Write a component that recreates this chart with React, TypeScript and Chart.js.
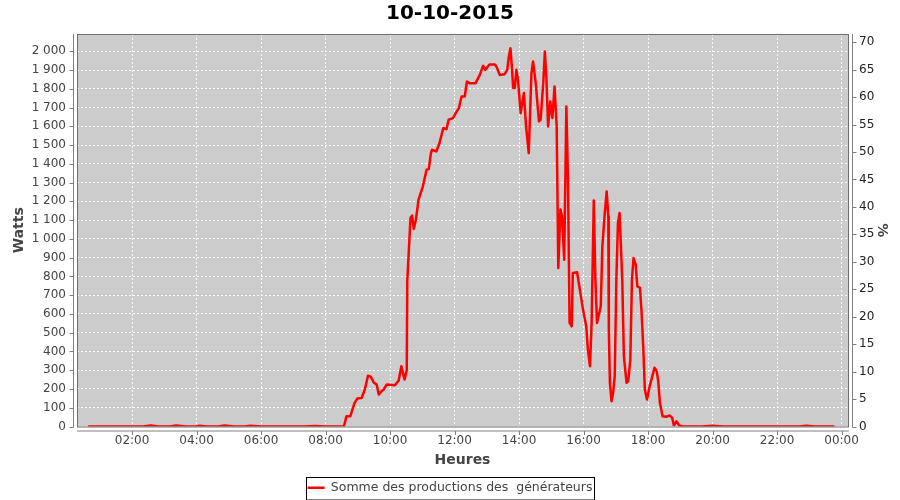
import React, { useEffect, useRef } from "react";
import { Chart, registerables } from "chart.js";

Chart.register(...registerables);

const TITLE = "10-10-2015";
const SERIES_LABEL = "Somme des productions des  générateurs";
const X_TITLE = "Heures";
const Y_TITLE = "Watts";
const Y2_TITLE = "%";

// Heure de chaque mesure
const times = [
  "00:40", "01:00", "01:20", "01:40", "02:00", "02:20", "02:35", "02:50", "03:10", "03:22",
  "03:40", "04:00", "04:05", "04:20", "04:40", "04:52", "05:10", "05:30", "05:40", "06:00",
  "06:20", "06:40", "07:00", "07:20", "07:40", "08:00", "08:20", "08:34",
  "08:39", "08:46", "08:54", "08:59", "09:07", "09:13", "09:19", "09:24", "09:30", "09:35",
  "09:39", "09:44", "09:48", "09:54", "10:09", "10:16", "10:21", "10:24", "10:27", "10:31",
  "10:32", "10:35", "10:38", "10:41", "10:44", "10:48", "10:53", "11:01", "11:08", "11:12",
  "11:16", "11:18", "11:26", "11:32", "11:39", "11:45", "11:49", "11:57", "12:04", "12:08",
  "12:13", "12:19", "12:23", "12:28", "12:39", "12:47", "12:53", "12:57", "13:05", "13:15",
  "13:18", "13:24", "13:33", "13:38", "13:41", "13:44", "13:47", "13:49", "13:52", "13:55",
  "13:58", "14:03", "14:09", "14:13", "14:18", "14:23", "14:26", "14:31", "14:37", "14:40",
  "14:45", "14:48", "14:51", "14:54", "14:58", "15:02", "15:06", "15:10", "15:13", "15:17",
  "15:20", "15:24", "15:28", "15:31", "15:34", "15:38", "15:40", "15:48", "15:53", "15:59",
  "16:05", "16:08", "16:12", "16:15", "16:19", "16:22", "16:25", "16:32", "16:35", "16:39",
  "16:43", "16:46", "16:47", "16:49", "16:52", "16:55", "16:58", "17:01", "17:04", "17:07",
  "17:12", "17:15", "17:20", "17:23", "17:27", "17:30", "17:33", "17:37", "17:40", "17:45",
  "17:48", "17:51", "17:54", "17:58", "18:03", "18:08", "18:12", "18:16", "18:19", "18:22",
  "18:27", "18:34", "18:40", "18:45", "18:48", "18:53", "18:58", "19:05", "19:20", "19:40",
  "20:00", "20:20", "20:40", "21:00", "21:20", "21:40", "22:00", "22:20", "22:40", "22:55",
  "23:10", "23:30", "23:45",
];

// Puissance mesurée (W)
const watts = [
  0, 0, 0, 0, 0, 0, 5, 0, 0, 5,
  0, 0, 4, 0, 0, 5, 0, 0, 4, 0,
  0, 0, 0, 0, 3, 0, 0, 0,
  55, 55, 126, 149, 152, 197, 271, 266, 233, 224,
  170, 188, 197, 224, 220, 245, 321, 286, 250, 300,
  774, 943, 1111, 1124, 1053, 1102, 1209, 1280, 1369, 1372,
  1457, 1475, 1466, 1511, 1591, 1585, 1635, 1644, 1679, 1697,
  1759, 1759, 1839, 1830, 1830, 1874, 1922, 1901, 1929, 1929,
  1918, 1874, 1878, 1901, 1972, 2016, 1900, 1804, 1804, 1901,
  1848, 1670, 1777, 1599, 1457, 1883, 1945, 1830, 1626, 1634,
  1830, 1999, 1848, 1599, 1732, 1644, 1812, 1599, 845, 1156,
  1120, 889, 1706, 1315, 552, 534, 818, 822, 730, 623,
  534, 410, 321, 552, 1205, 783, 552, 641, 960, 1120,
  1253, 1120, 516, 233, 135, 179, 268, 783, 1085, 1138,
  783, 374, 233, 241, 357, 783, 898, 863, 747, 739,
  605, 428, 197, 144, 215, 268, 313, 295, 241, 126,
  55, 52, 59, 46, 5, 28, 5, 0, 0, 0,
  4, 0, 0, 0, 0, 0, 0, 0, 0, 4,
  0, 0, 0,
];

// Graduations
const hourTicks = [2, 4, 6, 8, 10, 12, 14, 16, 18, 20, 22, 24];
const wattTicks = [0, 100, 200, 300, 400, 500, 600, 700, 800, 900, 1000, 1100, 1200, 1300, 1400, 1500, 1600, 1700, 1800, 1900, 2000];
const pctTicks = [0, 5, 10, 15, 20, 25, 30, 35, 40, 45, 50, 55, 60, 65, 70];

const X_MIN = 17.5; // minutes
const X_MAX = 1452;
const Y_MAX = 2092;
const Y2_MAX = 71.5;

const FONT = "'DejaVu Sans', Verdana, sans-serif";

const toMinutes = (t: string) => {
  const [h, m] = t.split(":").map(Number);
  return h * 60 + m;
};

const fmtWatts = (v: number) =>
  v >= 1000 ? `${Math.floor(v / 1000)} ${String(v % 1000).padStart(3, "0")}` : String(v);

const fmtHour = (m: number) => {
  const h = Math.round(m / 60) % 24;
  return `${String(h).padStart(2, "0")}:00`;
};

const framePlugin = {
  id: "plotFrame",
  beforeDraw(chart: any) {
    const { ctx, chartArea: a } = chart;
    ctx.save();
    ctx.fillStyle = "#cccccc";
    ctx.fillRect(a.left, a.top, a.right - a.left, a.bottom - a.top);
    ctx.restore();
  },
  afterDraw(chart: any) {
    const { ctx, chartArea: a, scales } = chart;
    ctx.save();
    ctx.lineWidth = 1;
    ctx.strokeStyle = "#6f6f6f";
    ctx.strokeRect(a.left + 0.5, a.top + 0.5, a.right - a.left, a.bottom - a.top);

    ctx.strokeStyle = "#808080";
    ctx.beginPath();
    const lx = a.left - 3.5;
    ctx.moveTo(lx, a.top);
    ctx.lineTo(lx, a.bottom + 1);
    scales.y.ticks.forEach((t: any) => {
      const py = Math.round(scales.y.getPixelForValue(t.value)) + 0.5;
      ctx.moveTo(lx - 4, py);
      ctx.lineTo(lx, py);
    });
    const rx = a.right + 4.5;
    ctx.moveTo(rx, a.top);
    ctx.lineTo(rx, a.bottom + 1);
    scales.y2.ticks.forEach((t: any) => {
      const py = Math.round(scales.y2.getPixelForValue(t.value)) + 0.5;
      ctx.moveTo(rx, py);
      ctx.lineTo(rx + 4, py);
    });
    const by = a.bottom + 4.5;
    ctx.moveTo(a.left, by);
    ctx.lineTo(a.right + 1, by);
    scales.x.ticks.forEach((t: any) => {
      const px = Math.round(scales.x.getPixelForValue(t.value)) + 0.5;
      ctx.moveTo(px, by);
      ctx.lineTo(px, by + 4);
    });
    ctx.stroke();

    // Legend frame
    const lg = chart.legend;
    if (lg && lg.legendHitBoxes && lg.legendHitBoxes.length) {
      const hb = lg.legendHitBoxes[0];
      ctx.strokeStyle = "#000000";
      ctx.lineWidth = 1;
      ctx.strokeRect(Math.round(hb.left) - 1.5, Math.round(hb.top) - 4.5, Math.round(hb.width) + 3, hb.height + 10);
    }
    ctx.restore();
  },
};

export default function App() {
  const canvasRef = useRef<HTMLCanvasElement | null>(null);

  useEffect(() => {
    const canvas = canvasRef.current;
    if (!canvas) return;
    const data = times.map((t, i) => ({ x: toMinutes(t), y: watts[i] }));
    const chart = new Chart(canvas, {
      type: "line",
      data: {
        datasets: [
          {
            label: SERIES_LABEL,
            data,
            borderColor: "#ff0000",
            backgroundColor: "#ff0000",
            borderWidth: 2.5,
            borderJoinStyle: "round",
            borderCapStyle: "round",
            pointRadius: 0,
            pointStyle: "line",
            tension: 0,
            fill: false,
            yAxisID: "y",
          },
        ],
      },
      options: {
        animation: false,
        responsive: false,
        events: [],
        layout: { padding: { left: 0, right: 0, top: 0, bottom: -4 } },
        plugins: {
          title: {
            display: true,
            text: TITLE,
            color: "#000000",
            font: { family: FONT, size: 20, weight: "bold" },
            padding: { top: 2, bottom: 8 },
          },
          legend: {
            display: true,
            position: "bottom",
            labels: {
              color: "#444444",
              font: { family: FONT, size: 12.5 },
              usePointStyle: true,
              pointStyle: "line",
              pointStyleWidth: 17,
              padding: 10,
            },
          },
          tooltip: { enabled: false },
        },
        scales: {
          x: {
            type: "linear",
            position: "bottom",
            min: X_MIN,
            max: X_MAX,
            afterBuildTicks: (s: any) => {
              s.ticks = hourTicks.map((h) => ({ value: h * 60 }));
            },
            afterFit: (s: any) => {
              s.height = 45;
            },
            ticks: {
              color: "#444444",
              font: { family: FONT, size: 12 },
              padding: 7,
              maxRotation: 0,
              autoSkip: false,
              callback: (v: any) => fmtHour(Number(v)),
            },
            grid: { color: "rgba(255,255,255,0.9)", lineWidth: 1, drawTicks: false },
            border: { display: false, dash: [2, 2] },
            title: {
              display: true,
              text: X_TITLE,
              color: "#444444",
              font: { family: FONT, size: 14, weight: "bold" },
              padding: { top: 0, bottom: 3 },
            },
          },
          y: {
            type: "linear",
            position: "left",
            min: 0,
            max: Y_MAX,
            afterBuildTicks: (s: any) => {
              s.ticks = wattTicks.map((v) => ({ value: v }));
            },
            afterFit: (s: any) => {
              s.width = 77;
            },
            ticks: {
              color: "#444444",
              font: { family: FONT, size: 12 },
              padding: 11,
              autoSkip: false,
              callback: (v: any) => fmtWatts(Number(v)),
            },
            grid: { color: "rgba(255,255,255,0.9)", lineWidth: 1, drawTicks: false },
            border: { display: false, dash: [2, 2] },
            title: {
              display: true,
              text: Y_TITLE,
              color: "#444444",
              font: { family: FONT, size: 14, weight: "bold" },
              padding: { top: 11, bottom: 0 },
            },
          },
          y2: {
            type: "linear",
            position: "right",
            min: 0,
            max: Y2_MAX,
            afterBuildTicks: (s: any) => {
              s.ticks = pctTicks.map((v) => ({ value: v }));
            },
            afterFit: (s: any) => {
              s.width = 52;
            },
            ticks: {
              color: "#222222",
              font: { family: FONT, size: 12 },
              padding: 11,
              autoSkip: false,
              callback: (v: any) => String(v),
            },
            grid: { display: false, drawTicks: false },
            border: { display: false },
            title: {
              display: true,
              text: Y2_TITLE,
              color: "#444444",
              font: { family: FONT, size: 14, weight: "bold" },
              padding: { top: 10, bottom: 0 },
            },
          },
        },
      },
      plugins: [framePlugin],
    } as any);
    return () => chart.destroy();
  }, []);

  return (
    <div style={{ position: "absolute", left: 0, top: 0, width: 900, height: 500, background: "#ffffff" }}>
      <canvas ref={canvasRef} width={900} height={500} style={{ width: 900, height: 500, display: "block" }} />
    </div>
  );
}
